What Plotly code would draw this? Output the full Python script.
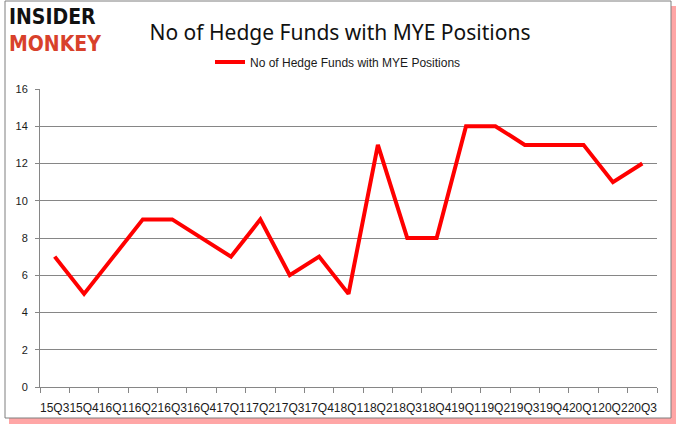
import plotly.graph_objects as go

quarters = ["15Q3", "15Q4", "16Q1", "16Q2", "16Q3", "16Q4", "17Q1", "17Q2", "17Q3", "17Q4",
            "18Q1", "18Q2", "18Q3", "18Q4", "19Q1", "19Q2", "19Q3", "19Q4", "20Q1", "20Q2", "20Q3"]
funds = [7, 5, 7, 9, 9, 8, 7, 9, 6, 7, 5, 13, 8, 8, 14, 14, 13, 13, 13, 11, 12]
series_name = "No of Hedge Funds with MYE Positions"

W, H = 678, 431
L, R, T, B = 40, 657, 89, 387


def px(x):
    return (x - L) / (R - L)


def py(y):
    return (B - y) / (B - T)


fig = go.Figure()
fig.add_trace(go.Scatter(
    x=quarters, y=funds, mode="lines", name=series_name,
    line=dict(color="#ff0000", width=4),
))

fig.update_layout(
    width=W, height=H,
    margin=dict(l=L, r=W - R, t=T, b=H - B),
    paper_bgcolor="rgba(0,0,0,0)", plot_bgcolor="rgba(0,0,0,0)",
    font=dict(family="Liberation Sans, Arial", color="#1a1a1a", size=11),
    showlegend=True,
    legend=dict(orientation="h", x=px(210), xanchor="left", y=py(62), yanchor="middle",
                font=dict(size=12, family="Liberation Sans Narrow, Liberation Sans"),
                bgcolor="rgba(0,0,0,0)", itemwidth=30),
    title=dict(text=series_name, x=340 / W, xanchor="center",
               y=1 - 33 / H, yanchor="middle",
               font=dict(size=21, family="Noto Sans, Liberation Sans", color="#111111")),
    xaxis=dict(
        type="category", showgrid=False, showline=True, linecolor="#868686", linewidth=1,
        ticks="outside", tickson="boundaries", ticklen=5, tickcolor="#868686",
        tickfont=dict(size=12, color="#1a1a1a"), tickangle=0, automargin=False,
        ticklabelstandoff=10,
        range=[-0.5, len(quarters) - 0.5],
    ),
    yaxis=dict(
        range=[0, 16], dtick=2, showgrid=True, gridcolor="#868686", gridwidth=1,
        showline=True, linecolor="#868686", linewidth=1, ticks="outside", ticklen=4,
        tickcolor="#868686", tickfont=dict(size=11, color="#1a1a1a"), zeroline=False,
        automargin=False, ticklabelstandoff=5,
    ),
)

# Frame with red shadow
fig.add_shape(type="rect", xref="paper", yref="paper",
              x0=px(9), x1=px(676), y0=py(424), y1=py(6),
              line=dict(width=0), fillcolor="rgba(255,0,0,0.35)", layer="below")
fig.add_shape(type="rect", xref="paper", yref="paper",
              x0=px(5), x1=px(671), y0=py(418), y1=py(1),
              line=dict(width=1, color="#7f7f7f"), fillcolor="white", layer="below")

# Logo
fig.add_annotation(text="<b>INSIDER</b><br><b><span style='color:#d8412b'>MONKEY</span></b>",
                   xref="paper", yref="paper", align="left",
                   x=px(7), y=py(31), xanchor="left", yanchor="middle", showarrow=False,
                   font=dict(size=21, family="DejaVu Sans Condensed, Liberation Sans Narrow",
                             color="#111111"))

fig.write_html("out.html", config={"displayModeBar": False},
               post_script="document.body.style.margin='0';")
